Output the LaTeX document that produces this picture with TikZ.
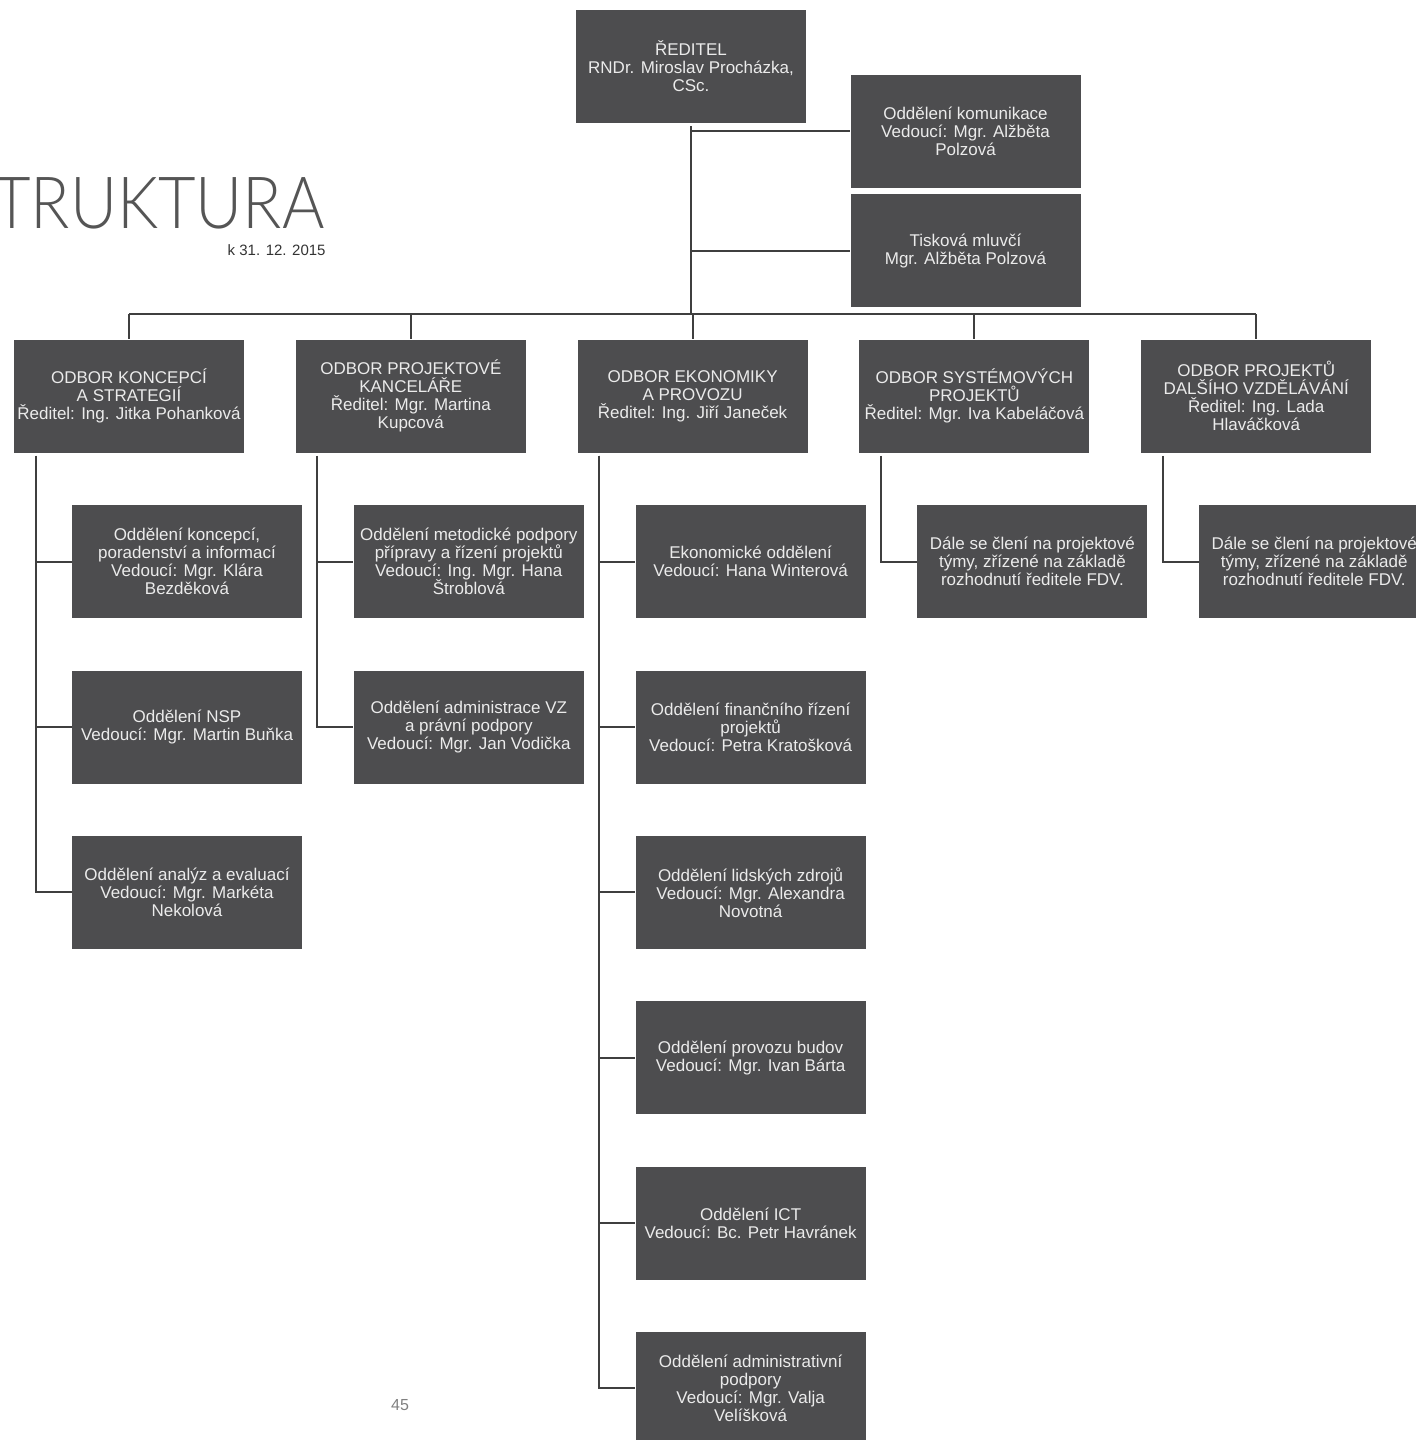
\documentclass[tikz,border=0pt]{standalone}
\usepackage{fontspec}
\setmainfont{Liberation Sans}
\newfontfamily\thinfont{Lato Light}
\usetikzlibrary{positioning}
\definecolor{boxgray}{HTML}{4D4D4F}
\definecolor{linegray}{HTML}{3F3F3F}
\definecolor{titlegray}{HTML}{555555}
\lineskiplimit=-5pt

\begin{document}
\begin{tikzpicture}[x=0.5pt,y=-0.5pt,
  font=\fontsize{8.5}{9}\selectfont,
  org/.style={fill=boxgray,text=white!92!black,minimum width=115pt,minimum height=56.5pt,inner sep=1pt,align=center},
  link/.style={draw=linegray,line width=1pt},
  note/.style={inner sep=0pt},
]
\useasboundingbox (0,0) rectangle (1416,1440);

% ===== heading =====
\node[note,anchor=base east,xscale=0.9,text=titlegray,font=\thinfont\fontsize{36}{36}\selectfont] (title) at (325,228) {STRUKTURA};
\node[note,anchor=base east,text=black!80,font=\fontsize{7.5}{9}\selectfont] (date) at (326,255) {k 31. 12. 2015};
\node[note,text=gray,font=\fontsize{8}{9}\selectfont] (page) at (400,1405) {45};

% ===== top: director and staff =====
\node[org] (dir) at (691,66.5) {ŘEDITEL\\RNDr. Miroslav Procházka,\\CSc.};
\node[org] (kom) at (965.5,131) {Oddělení komunikace\\Vedoucí: Mgr. Alžběta\\Polzová};
\node[org,below=3pt of kom] (tis) {Tisková mluvčí\\Mgr. Alžběta Polzová};

% ===== odbory =====
\node[org] (ok) at (129,396) {ODBOR KONCEPCÍ\\A STRATEGIÍ\\Ředitel: Ing. Jitka Pohanková};
\node[org,right=25.5pt of ok] (op) {ODBOR PROJEKTOVÉ\\KANCELÁŘE\\Ředitel: Mgr. Martina\\Kupcová};
\node[org,right=25.5pt of op] (oe) {ODBOR EKONOMIKY\\A PROVOZU\\Ředitel: Ing. Jiří Janeček};
\node[org,right=25.5pt of oe] (os) {ODBOR SYSTÉMOVÝCH\\PROJEKTŮ\\Ředitel: Mgr. Iva Kabeláčová};
\node[org,right=25.5pt of os] (ov) {ODBOR PROJEKTŮ\\DALŠÍHO VZDĚLÁVÁNÍ\\Ředitel: Ing. Lada\\Hlaváčková};

% ===== oddělení =====
\node[org,below=26pt of ok,xshift=29pt] (k1) {Oddělení koncepcí,\\poradenství a informací\\Vedoucí: Mgr. Klára\\Bezděková};
\node[org,below=25.75pt of k1] (k2) {Oddělení NSP\\Vedoucí: Mgr. Martin Buňka};
\node[org,below=25.75pt of k2] (k3) {Oddělení analýz a evaluací\\Vedoucí: Mgr. Markéta\\Nekolová};

\node[org,below=26pt of op,xshift=29pt] (p1) {Oddělení metodické podpory\\přípravy a řízení projektů\\Vedoucí: Ing. Mgr. Hana\\Štroblová};
\node[org,below=25.75pt of p1] (p2) {Oddělení administrace VZ\\a právní podpory\\Vedoucí: Mgr. Jan Vodička};

\node[org,below=26pt of oe,xshift=29pt] (e1) {Ekonomické oddělení\\Vedoucí: Hana Winterová};
\node[org,below=25.75pt of e1] (e2) {Oddělení finančního řízení\\projektů\\Vedoucí: Petra Kratošková};
\node[org,below=25.75pt of e2] (e3) {Oddělení lidských zdrojů\\Vedoucí: Mgr. Alexandra\\Novotná};
\node[org,below=25.75pt of e3] (e4) {Oddělení provozu budov\\Vedoucí: Mgr. Ivan Bárta};
\node[org,below=25.75pt of e4] (e5) {Oddělení ICT\\Vedoucí: Bc. Petr Havránek};
\node[org,below=25.75pt of e5] (e6) {Oddělení administrativní\\podpory\\Vedoucí: Mgr. Valja\\Velíšková};

\node[org,below=26pt of os,xshift=29pt] (s1) {Dále se člení na projektové\\týmy, zřízené na základě\\rozhodnutí ředitele FDV.};
\node[org,below=26pt of ov,xshift=29pt] (v1) {Dále se člení na projektové\\týmy, zřízené na základě\\rozhodnutí ředitele FDV.};

% ===== connectors =====
\coordinate (bar) at (0,314);
\draw[link] ([yshift=-1.5pt]dir.south) -- (dir.south |- bar);
\draw[link] (dir.south |- kom.west) -- (kom.west);
\draw[link] (dir.south |- tis.west) -- (tis.west);
\draw[link] (ok.north |- bar) -- (ov.north |- bar);
\foreach \o in {ok,op,oe,os,ov}
  \draw[link] (\o.north |- bar) -- (\o.north);
\foreach \o/\c in {ok/k1,ok/k2,ok/k3,op/p1,op/p2,oe/e1,oe/e2,oe/e3,oe/e4,oe/e5,oe/e6,os/s1,ov/v1}
  \draw[link] ([xshift=11pt,yshift=-1.5pt]\o.south west) |- (\c.west);
\end{tikzpicture}
\end{document}
